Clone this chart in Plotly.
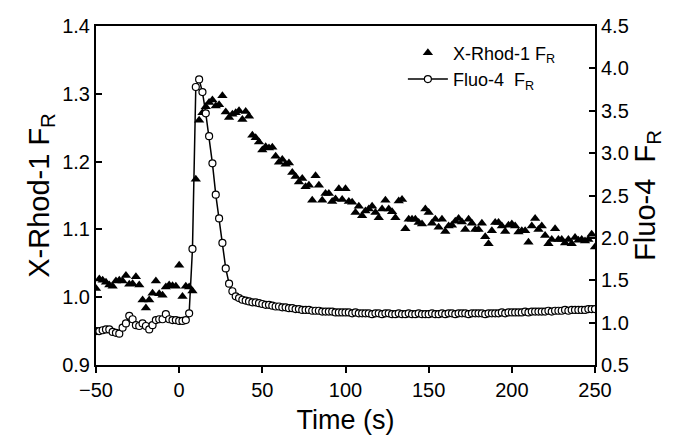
import plotly.graph_objects as go

# Time axis (s), sampled every 2 s
time_s = [-50 + 2 * i for i in range(151)]

# X-Rhod-1 F_R (left axis)
xrhod = [
    1.013, 1.027, 1.025, 1.022, 1.018, 1.016, 1.024, 1.025, 1.024, 1.032,
    1.019, 1.020, 1.030, 1.018, 0.996, 0.984, 0.996, 1.006, 1.024, 1.005,
    1.003, 1.015, 1.018, 1.017, 1.016, 1.047, 1.001, 1.016, 1.015, 1.009,
    1.174, 1.261, 1.272, 1.281, 1.287, 1.291, 1.282, 1.284, 1.297, 1.273,
    1.265, 1.270, 1.272, 1.275, 1.262, 1.274, 1.267, 1.239, 1.235, 1.229,
    1.217, 1.222, 1.220, 1.221, 1.208, 1.199, 1.203, 1.196, 1.198, 1.184,
    1.178, 1.170, 1.175, 1.163, 1.165, 1.143, 1.179, 1.165, 1.143, 1.153,
    1.153, 1.141, 1.145, 1.160, 1.144, 1.160, 1.141, 1.140, 1.125, 1.134,
    1.120, 1.127, 1.130, 1.134, 1.125, 1.117, 1.130, 1.143, 1.130, 1.126,
    1.117, 1.142, 1.144, 1.101, 1.115, 1.115, 1.115, 1.110, 1.108, 1.130,
    1.125, 1.109, 1.115, 1.103, 1.115, 1.097, 1.105, 1.106, 1.112, 1.116,
    1.111, 1.100, 1.115, 1.109, 1.100, 1.100, 1.109, 1.089, 1.079, 1.098,
    1.110, 1.110, 1.105, 1.097, 1.106, 1.108, 1.105, 1.096, 1.098, 1.098,
    1.081, 1.105, 1.116, 1.100, 1.105, 1.091, 1.079, 1.085, 1.101, 1.085,
    1.085, 1.080, 1.085, 1.079, 1.088, 1.084, 1.085, 1.083, 1.085, 1.093,
    1.074,
]

# Fluo-4 F_R (right axis)
fluo4 = [
    0.90, 0.90, 0.91, 0.92, 0.92, 0.89, 0.88, 0.87, 0.94, 0.99,
    1.08, 1.04, 0.97, 0.96, 0.99, 0.96, 0.92, 0.97, 1.03, 1.04,
    1.04, 1.10, 1.04, 1.03, 1.03, 1.02, 1.02, 1.03, 1.11, 1.87,
    3.78, 3.87, 3.72, 3.47, 3.20, 2.88, 2.51, 2.23, 1.94, 1.64,
    1.46, 1.37, 1.31, 1.29, 1.27, 1.26, 1.25, 1.24, 1.24, 1.23,
    1.22, 1.21, 1.21, 1.20, 1.19, 1.19, 1.18, 1.18, 1.17, 1.17,
    1.16, 1.16, 1.15, 1.15, 1.15, 1.14, 1.14, 1.14, 1.13, 1.13,
    1.13, 1.13, 1.12, 1.12, 1.12, 1.12, 1.12, 1.11, 1.12, 1.11,
    1.11, 1.11, 1.11, 1.10, 1.11, 1.11, 1.10, 1.11, 1.11, 1.10,
    1.10, 1.11, 1.10, 1.10, 1.11, 1.10, 1.10, 1.11, 1.10, 1.10,
    1.10, 1.11, 1.10, 1.10, 1.11, 1.10, 1.11, 1.11, 1.10, 1.11,
    1.11, 1.11, 1.10, 1.11, 1.11, 1.11, 1.11, 1.10, 1.11, 1.11,
    1.11, 1.11, 1.12, 1.11, 1.12, 1.12, 1.12, 1.12, 1.12, 1.13,
    1.12, 1.13, 1.13, 1.13, 1.13, 1.13, 1.14, 1.13, 1.14, 1.14,
    1.14, 1.15, 1.14, 1.15, 1.15, 1.15, 1.15, 1.15, 1.16, 1.16,
    1.16,
]

x_ticks = [-50, 0, 50, 100, 150, 200, 250]
left_ticks = [0.9, 1.0, 1.1, 1.2, 1.3, 1.4]
right_ticks = [0.5, 1.0, 1.5, 2.0, 2.5, 3.0, 3.5, 4.0, 4.5]

FONT = "Liberation Sans, Arial, sans-serif"

fig = go.Figure()
fig.add_trace(go.Scatter(
    x=time_s, y=xrhod, mode="markers", name="X-Rhod-1 F<sub>R</sub>",
    marker=dict(symbol="triangle-up", size=9, color="black"),
    yaxis="y",
))
fig.add_trace(go.Scatter(
    x=time_s, y=fluo4, mode="lines+markers",
    name="Fluo-4\u00a0\u00a0F<sub>R</sub>",
    line=dict(color="black", width=1.5),
    marker=dict(symbol="circle", size=7, color="white",
                line=dict(color="black", width=1.2)),
    yaxis="y2",
))

axis_common = dict(
    tickcolor="black", tickwidth=1.5, ticklen=6,
    showline=True, linecolor="black", linewidth=2,
    showgrid=False, zeroline=False,
    tickfont=dict(size=20), ticklabeloverflow="allow",
)

fig.update_layout(
    width=675, height=442,
    margin=dict(l=88, r=88, t=7, b=85),
    paper_bgcolor="white", plot_bgcolor="white",
    font=dict(family=FONT, color="black", size=18),
    xaxis=dict(
        range=[-50, 250], tickvals=x_ticks, ticks="outside", mirror=True,
        title=dict(text="Time (s)", font=dict(size=27), standoff=10),
        **axis_common,
    ),
    yaxis=dict(
        range=[0.9, 1.4], tickvals=left_ticks, tickformat=".1f", ticks="inside",
        title=dict(text="X-Rhod-1 F<sub>R</sub>", font=dict(size=29), standoff=4),
        **axis_common,
    ),
    yaxis2=dict(
        range=[0.5, 4.5], tickvals=right_ticks, tickformat=".1f",
        overlaying="y", side="right", ticks="inside",
        title=dict(text="Fluo-4\u00a0\u00a0F<sub>R</sub>", font=dict(size=29), standoff=4),
        **axis_common,
    ),
    legend=dict(
        x=0.615, y=0.975, xanchor="left", yanchor="top",
        bgcolor="rgba(0,0,0,0)", font=dict(size=18),
        itemwidth=40, tracegroupgap=2,
    ),
    showlegend=True,
)

fig.write_html("out.html")
